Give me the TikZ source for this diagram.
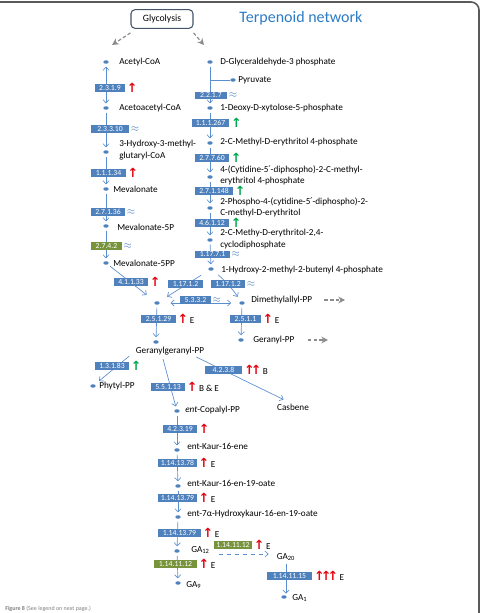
\documentclass[tikz,border=0pt]{standalone}
\usepackage{fontspec}
\setmainfont{Carlito}
\newfontfamily\symfnt{DejaVu Sans}
\usepackage{xcolor}
\usepackage{tikz}
\usetikzlibrary{arrows.meta,shapes.geometric}
\definecolor{ecblue}{HTML}{4F81BD}
\definecolor{ecgreen}{HTML}{77933C}
\definecolor{flowblue}{HTML}{5B8ECF}
\definecolor{titleblue}{HTML}{2B7BC4}
\definecolor{upred}{HTML}{E30613}
\definecolor{upgreen}{HTML}{00A651}
\definecolor{framegrey}{HTML}{5A5A5A}
\definecolor{glycline}{HTML}{44546A}
\definecolor{dashgrey}{HTML}{8C8C8C}
\newcommand\lblfont{\fontsize{6.9}{8.4}\selectfont}
\newcommand\ecfont{\fontsize{5.8}{6.5}\selectfont}
\newcommand\upR{{\symfnt\bfseries\fontsize{9.5}{9.5}\selectfont\color{upred}↑}}
\newcommand\upG{{\symfnt\bfseries\fontsize{9.5}{9.5}\selectfont\color{upgreen}↑}}
\newcommand\upRR{\upR\kern-0.42em\upR}
\newcommand\upRRR{\upR\kern-0.42em\upR\kern-0.42em\upR}
\newcommand\apx{\textcolor{ecblue}{$\approx$}}
\newcommand\prm{{\symfnt ′}}

\begin{document}
\begin{tikzpicture}[x=0.75pt, y=-0.75pt, label distance=0.6pt,
  dot/.style={ellipse, fill=ecblue, minimum width=4pt, minimum height=2.6pt, inner sep=0pt},
  lbl/.style={anchor=west, font=\lblfont, inner sep=0pt, align=left},
  ec/.style={fill=ecblue, text=white, font=\ecfont, inner xsep=1pt, inner ysep=0.4pt, minimum height=5.6pt, minimum width=#1},
  ec/.default=25.5pt,
  ecg/.style={ec=#1, fill=ecgreen},
  ecg/.default=25.5pt,
  tag/.style={label={[font=\lblfont, inner sep=0.4pt]right:#1}},
  flow/.style={flowblue, line width=0.5pt, shorten <=2pt, shorten >=2pt, -{Straight Barb[length=2.4pt,width=4.6pt]}},
  twoway/.style={flow, {Straight Barb[length=2.4pt,width=4.6pt]}-{Straight Barb[length=2.4pt,width=4.6pt]}},
  leak/.style={dashgrey, line width=0.9pt, dash pattern=on 2.6pt off 1.6pt, -{Stealth[length=5pt,width=5pt]}}
]
\useasboundingbox (0,0) rectangle (482,613);
% frame
\draw[framegrey, line width=1.2pt, rounded corners=6pt] (-10,2) -- (479,2) -- (479,630);

% header
\node[draw=glycline, rounded corners=3pt, line width=0.8pt, minimum width=46.5pt, minimum height=14pt,
      font=\fontsize{7.3}{8}\selectfont] (glyc) at (162,19) {Glycolysis};
\node[font=\fontsize{12}{14}\selectfont, text=titleblue] (title) at (301,18) {Terpenoid network};
\coordinate (glycL) at (112,45);
\coordinate (glycR) at (204,45);

% mevalonate branch
\node[dot] (acetyl) at (106,62) {};
\node[dot] (acac) at (106,108) {};
\node[dot] (hmg) at (106,152) {};
\node[dot] (mva) at (106,189) {};
\node[dot] (mvp) at (106,226) {};
\node[dot] (mvpp) at (106,263) {};
\node[dot] (ipp) at (157,303) {};
\node[lbl] (acetylL) at (119,62) {Acetyl-CoA};
\node[lbl] (acacL) at (119,108) {Acetoacetyl-CoA};
\node[lbl] (hmgL) at (119,150) {3-Hydroxy-3-methyl-\\glutaryl-CoA};
\node[lbl] (mvaL) at (113,189) {Mevalonate};
\node[lbl] (mvpL) at (117,227) {Mevalonate-5P};
\node[lbl] (mvppL) at (113,263) {Mevalonate-5PP};

% MEP branch
\node[dot] (dga) at (210,62) {};
\node[dot] (pyr) at (233,80) {};
\node[dot] (dxp) at (210,108) {};
\node[dot] (mep) at (210,143) {};
\node[dot] (cdpme) at (210,177) {};
\node[dot] (cdpmep) at (210,208) {};
\node[dot] (mecpp) at (210,240) {};
\node[dot] (hmbpp) at (211,269) {};
\node[dot] (dmapp) at (242,303) {};
\node[dot] (gpp) at (241,340) {};
\node[lbl] (dgaL) at (220,62) {D-Glyceraldehyde-3 phosphate};
\node[lbl] (pyrL) at (238,80) {Pyruvate};
\node[lbl] (dxpL) at (220,108) {1-Deoxy-D-xytolose-5-phosphate};
\node[lbl] (mepL) at (220,142) {2-C-Methyl-D-erythritol 4-phosphate};
\node[lbl] (cdpmeL) at (220,175.5) {4-(Cytidine-5\prm-diphospho)-2-C-methyl-\\erythritol 4-phosphate};
\node[lbl] (cdpmepL) at (220,207.5) {2-Phospho-4-(cytidine-5\prm-diphospho)-2-\\C-methyl-D-erythritol};
\node[lbl] (mecppL) at (220,239) {2-C-Methy-D-erythritol-2,4-\\cyclodiphosphate};
\node[lbl] (hmbppL) at (221,270) {1-Hydroxy-2-methyl-2-butenyl 4-phosphate};
\node[lbl] (dmappL) at (251,300) {Dimethylallyl-PP};
\node[lbl] (gppL) at (253,340) {Geranyl-PP};
\coordinate (dmout) at (345,300);
\coordinate (gpout) at (328,340);

% diterpenes and GAs
\node[dot] (ggpp) at (156,342) {};
\node[dot] (phytyl) at (93,386) {};
\node[dot] (copal) at (177,411) {};
\node[dot] (kaurene) at (177,450) {};
\node[dot] (kaurenoic) at (178,486) {};
\node[dot] (hkaur) at (178,517) {};
\node[dot] (ga12) at (177,551) {};
\node[dot] (ga9) at (178,583) {};
\node[dot] (ga1) at (284,597) {};
\node[font=\lblfont, inner sep=0pt] (ggppL) at (170,351) {Geranylgeranyl-PP};
\node[lbl] (phytylL) at (99,386) {Phytyl-PP};
\node[font=\lblfont, inner sep=0pt] (casbL) at (293,407) {Casbene};
\node[lbl] (copalL) at (185,410) {\textit{ent}-Copalyl-PP};
\node[lbl] (kaureneL) at (187,446) {ent-Kaur-16-ene};
\node[lbl] (kaurenoicL) at (187,483) {ent-Kaur-16-en-19-oate};
\node[lbl] (hkaurL) at (187,514) {ent-7α-Hydroxykaur-16-en-19-oate};
\node[lbl] (ga12L) at (191,550) {GA\textsubscript{12}};
\node[lbl] (ga9L) at (186,585) {GA\textsubscript{9}};
\node[font=\lblfont, inner sep=0pt] (ga20L) at (286,557) {GA\textsubscript{20}};
\node[lbl] (ga1L) at (292,598) {GA\textsubscript{1}};

% connectors
\draw[leak] ([yshift=-3pt]glyc.south west) -- (glycL);
\draw[leak] ([yshift=-3pt]glyc.south east) -- (glycR);
\draw[twoway] (acetyl) -- (acac);
\draw[flow] (acac) -- (hmg);
\draw[flow] (hmg) -- (mva);
\draw[flow] (mva) -- (mvp);
\draw[flow] (mvp) -- (mvpp);
\draw[flow, shorten >=8pt] (mvpp) -- (ipp);
\draw[flowblue, line width=0.5pt] (pyr) -- (pyr -| dga);
\draw[flow] (dga) -- (dxp);
\draw[flow] (dxp) -- (mep);
\draw[flow] (mep) -- (cdpme);
\draw[flow] (cdpme) -- (cdpmep);
\draw[flow] (cdpmep) -- (mecpp);
\draw[flow] (mecpp) -- (hmbpp);
\draw[flow, shorten <=7pt, shorten >=7pt] (hmbpp) -- (ipp);
\draw[flow, shorten <=5pt, shorten >=4pt] (hmbpp) to[bend left=8] (dmapp);
\draw[twoway, shorten <=8pt, shorten >=6pt] (ipp) -- (dmapp);
\draw[flow] (dmapp) -- (gpp);
\draw[flow] (ipp) -- (ggpp);
\draw[leak] ([xshift=9pt]dmappL.east) -- (dmout);
\draw[leak] ([xshift=10pt]gppL.east) -- (gpout);
\draw[flow, shorten <=1pt, shorten >=4pt] ([xshift=-4pt]ggppL.south west) -- (phytyl);
\draw[flow, shorten <=3pt] ([xshift=-6pt]ggppL.south) -- (copal);
\draw[flow, shorten <=3pt, shorten >=0pt] ([xshift=17pt]ggppL.south) -- ([xshift=5pt,yshift=3pt]casbL.north west);
\draw[flow] (copal) -- (kaurene);
\draw[flow] (kaurene) -- (kaurenoic);
\draw[flow] (kaurenoic) -- (hkaur);
\draw[flow] (hkaur) -- (ga12);
\draw[flow] (ga12) -- (ga9);
\draw[flow, dashed, shorten <=0pt, shorten >=0pt] ([xshift=7pt,yshift=-3pt]ga12L.east) -- ([xshift=-6pt,yshift=-3pt]ga12L.east -| ga20L.west);
\draw[flow, shorten >=1pt] (ga20L.south) -- (ga20L.south |- ga1.north);

% enzymes
\node[ec=22.5pt, tag={\upR}] (e2319) at (110,88) {2.3.1.9};
\node[ec=28.5pt, tag={\apx}] (e23310) at (110,129) {2.3.3.10};
\node[ec=26pt, tag={\upR}] (e11134) at (108.5,173) {1.1.1.34};
\node[ec, tag={\apx}] (e27136) at (108,212) {2.7.1.36};
\node[ecg=23pt, tag={\apx}] (e2742) at (106.5,246) {2.7.4.2};
\node[ec, tag={\upR}] (e41133) at (131,282) {4.1.1.33};
\node[ec=24pt, tag={\apx}] (e2217) at (211,95.5) {2.2.1.7};
\node[ec=28pt, tag={\upG}] (e111267) at (210.5,123) {1.1.1.267};
\node[ec, tag={\upG}] (e27760) at (212,158) {2.7.7.60};
\node[ec=28.5pt, tag={\upG}] (e271148) at (214,191) {2.7.1.148};
\node[ec, tag={\upG}] (e46112) at (212,223) {4.6.1.12};
\node[ec=26pt, tag={\apx}] (e11771) at (212.5,254.5) {1.17.7.1};
\node[ec=26pt] (e11712a) at (185.5,284) {1.17.1.2};
\node[ec, tag={\apx}] (e11712b) at (228,284) {1.17.1.2};
\node[ec=23pt, tag={\apx}] (e5332) at (195.5,300) {5.3.3.2};
\node[ec=23pt, tag={\upR\,E}] (e2511) at (245.5,319) {2.5.1.1};
\node[ec=26pt, tag={\upR\,E}] (e25129) at (158.5,319) {2.5.1.29};
\node[ec, tag={\upG}] (e13183) at (112,366) {1.3.1.83};
\node[ec, tag={\upR\,B \& E}] (e55113) at (168,387) {5.5.1.13};
\node[ec=28pt, tag={\upRR\,B}] (e4238) at (223.5,370) {4.2.3.8};
\node[ec, tag={\upR}] (e42319) at (180,429) {4.2.3.19};
\node[ec=29pt, tag={\upR\,E}] (e1141378) at (177.5,463) {1.14.13.78};
\node[ec=29pt, tag={\upR\,E}] (e1141379a) at (177.5,498) {1.14.13.79};
\node[ec=32pt, tag={\upR\,E}] (e1141379b) at (179.5,533) {1.14.13.79};
\node[ecg=28.5pt, tag={\upR\,E}] (e1141112a) at (233,545) {1.14.11.12};
\node[ecg=32pt, tag={\upR\,E}] (e1141112b) at (175.5,564) {1.14.11.12};
\node[ec=34pt, tag={\upRRR\,E}] (e1141115) at (289.5,576) {1.14.11.15};

% caption
\node[lbl, font=\fontsize{4.5}{5}\selectfont, text=gray] (cap) at (5,609) {\textbf{Figure 8} (See legend on next page.)};
\end{tikzpicture}
\end{document}
